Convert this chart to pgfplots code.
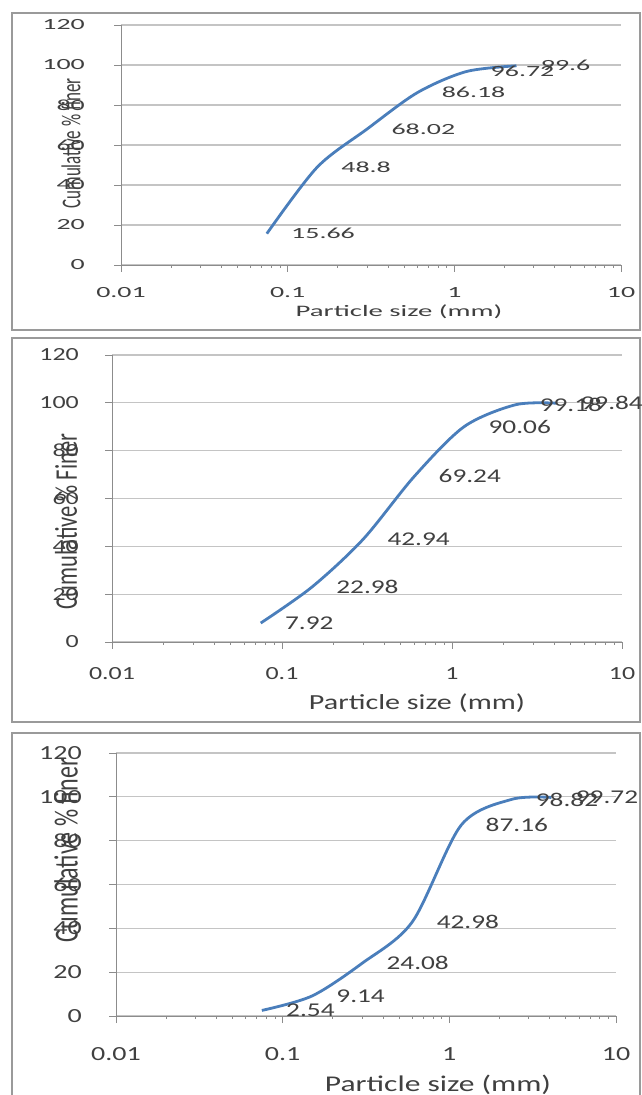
\documentclass[border=0pt]{standalone}
\usepackage{graphicx}
\usepackage{pgfplots}
\pgfplotsset{compat=1.18}
\usepackage{pgfplotstable}
\usepackage{fontspec}
\setmainfont{Carlito}
\newfontfamily\fa{Carlito}[FakeStretch=1.8]
\newfontfamily\fb{Carlito}[FakeStretch=1.4]
\definecolor{curvec}{HTML}{4A7EBB}
\definecolor{gridc}{HTML}{C4C4C4}
\definecolor{axc}{HTML}{8C8C8C}
\definecolor{txt}{HTML}{404040}
\definecolor{framec}{HTML}{9A9A9A}

\pgfplotstableread{
x y lab
0.075 15.66 15.66
0.15 48.8 48.8
0.3 68.02 68.02
0.6 86.18 86.18
1.18 96.72 96.72
2.36 99.6 99.6
}\dataA
\pgfplotstableread{
x y lab
0.075 7.92 7.92
0.15 22.98 22.98
0.3 42.94 42.94
0.6 69.24 69.24
1.18 90.06 90.06
2.36 99.18 99.18
4.1 99.84 99.84
}\dataB
\pgfplotstableread{
x y lab
0.075 2.54 2.54
0.15 9.14 9.14
0.3 24.08 24.08
0.6 42.98 42.98
1.18 87.16 87.16
2.36 98.82 98.82
4.1 99.72 99.72
}\dataC

\pgfplotsset{
    every axis/.append style={
    scale only axis,
    xmin=0.01, xmax=10,
    ymin=0, ymax=120,
    xtick={0.01,0.1,1,10},
    xticklabels={0.01,0.1,1,10},
    minor xtick={},
    ytick={0,20,40,60,80,100,120},
    /pgf/number format/assume math mode=true,
    axis x line=bottom, axis y line=left,
    axis line style={draw=axc, line width=0.9pt, -},
    tick align=outside,
    major tick length=7pt,
    ymajorgrids, grid style={gridc, line width=1.2pt},
    tick style={draw=axc, line width=0.9pt},
    clip=false,
    tick label style={text=txt, inner sep=0pt},
    label style={text=txt},
    xticklabel style={anchor=center},
    yticklabel style={anchor=east},
  },
}

\begin{document}
\begin{tikzpicture}
\useasboundingbox (0pt,0pt) rectangle (641pt,1095pt);
\draw[framec, line width=1.3pt] (12pt,1082pt) rectangle (640pt,765pt);
\draw[framec, line width=1.3pt] (12pt,757pt) rectangle (640pt,373pt);
\draw[framec, line width=1.3pt] (12pt,362pt) rectangle (640pt,-5pt);

% Panel 1
\begin{semilogxaxis}[at={(121pt,830pt)}, anchor=south west, width=500pt, height=240pt,
  tick label style={font=\fa\fontsize{15.5}{16}\selectfont},
  xticklabel style={yshift=-21pt},
  yticklabel style={xshift=-29pt},
  xlabel={\fa\fontsize{16}{17}\selectfont Particle size (mm)},
  xlabel style={at={(axis description cs:0.556,-0.196)}, anchor=center},
  ylabel={\scalebox{1}[1.6]{\fontsize{17}{18}\selectfont Cumulative \% finer}},
  ylabel style={at={(axis description cs:-0.10,0.506)}, anchor=center},
]
\addplot[curvec, line width=2.8pt, smooth, no markers,
  nodes near coords, point meta=explicit symbolic,
  every node near coord/.append style={anchor=west, inner sep=0pt, xshift=23pt, text=txt, font=\fa\fontsize{15.5}{16}\selectfont}]
  table[x=x, y=y, meta=lab] {\dataA};
\end{semilogxaxis}

% Panel 2
\begin{semilogxaxis}[at={(112pt,453pt)}, anchor=south west, width=510pt, height=287pt,
  tick label style={font=\fb\fontsize{18.5}{19}\selectfont},
  xticklabel style={yshift=-25pt},
  yticklabel style={xshift=-26pt},
  xlabel={\fb\fontsize{21.5}{22}\selectfont Particle size (mm)},
  xlabel style={at={(axis description cs:0.598,-0.2125)}, anchor=center},
  ylabel={\scalebox{1}[1.4]{\fontsize{22.5}{23}\selectfont Cumulative \% Finer}},
  ylabel style={at={(axis description cs:-0.090,0.42)}, anchor=center},
]
\addplot[curvec, line width=2.8pt, smooth, no markers,
  nodes near coords, point meta=explicit symbolic,
  every node near coord/.append style={anchor=west, inner sep=0pt, xshift=23pt, text=txt, font=\fb\fontsize{19.5}{20}\selectfont}]
  table[x=x, y=y, meta=lab] {\dataB};
\end{semilogxaxis}

% Panel 3
\begin{semilogxaxis}[at={(116pt,79pt)}, anchor=south west, width=500pt, height=263pt,
  tick label style={font=\fb\fontsize{20}{21}\selectfont},
  xticklabel style={yshift=-31pt},
  yticklabel style={xshift=-27pt},
  xlabel={\fb\fontsize{22.5}{23}\selectfont Particle size (mm)},
  xlabel style={at={(axis description cs:0.644,-0.262)}, anchor=center},
  ylabel={\scalebox{1}[1.4]{\fontsize{24}{25}\selectfont Cumulative \% finer}},
  ylabel style={at={(axis description cs:-0.10,0.63)}, anchor=center},
]
\addplot[curvec, line width=2.8pt, smooth, no markers,
  nodes near coords, point meta=explicit symbolic,
  every node near coord/.append style={anchor=west, inner sep=0pt, xshift=23pt, text=txt, font=\fb\fontsize{19.5}{20}\selectfont}]
  table[x=x, y=y, meta=lab] {\dataC};
\end{semilogxaxis}
\end{tikzpicture}
\end{document}
